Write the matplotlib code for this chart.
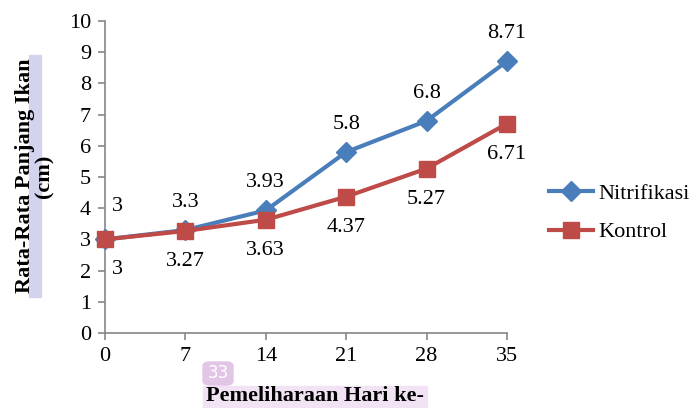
import matplotlib.pyplot as plt
from matplotlib.patches import Rectangle, FancyBboxPatch

hari = [0, 7, 14, 21, 28, 35]
nitrifikasi = [3, 3.3, 3.93, 5.8, 6.8, 8.71]
kontrol = [3, 3.27, 3.63, 4.37, 5.27, 6.71]
nitri_labels = ['3', '3.3', '3.93', '5.8', '6.8', '8.71']
kontrol_labels = ['3', '3.27', '3.63', '4.37', '5.27', '6.71']

plt.rcParams['font.family'] = ['Liberation Serif', 'DejaVu Serif']

fig = plt.figure(figsize=(6.9, 4.08), dpi=100)
ax = fig.add_axes([105 / 690, 75 / 408, 402 / 690, 312 / 408])

blue = '#4a7ebb'
red = '#be4b48'

ax.plot(hari, nitrifikasi, color=blue, lw=3, marker='D', ms=10,
        mec=blue, mfc=blue, label='Nitrifikasi', zorder=3)
ax.plot(hari, kontrol, color=red, lw=3, marker='s', ms=12,
        mec=red, mfc=red, label='Kontrol', zorder=4)

for i, (x, y) in enumerate(zip(hari, nitrifikasi)):
    dx = 9 if i == 0 else 0
    dy = 24 if i == 0 else 20
    ax.annotate(nitri_labels[i], (x, y), xytext=(dx, dy), textcoords='offset points',
                ha='center', va='center', fontsize=16)
for i, (x, y) in enumerate(zip(hari, kontrol)):
    dx = 9 if i == 0 else 0
    ax.annotate(kontrol_labels[i], (x, y), xytext=(dx, -22), textcoords='offset points',
                ha='center', va='center', fontsize=16)

ax.set_xlim(0, 35)
ax.set_ylim(0, 10)
ax.set_xticks(hari)
ax.set_yticks(range(11))
ax.tick_params(labelsize=16, color='#868686', length=5, width=1.2,
               direction='out', pad=5)
for s in ['top', 'right']:
    ax.spines[s].set_visible(False)
for s in ['left', 'bottom']:
    ax.spines[s].set_color('#868686')
    ax.spines[s].set_linewidth(1.2)
for line in ax.lines:
    line.set_clip_on(False)

# highlight behind the y label
fig.patches.append(Rectangle((29 / 690, 1 - 297 / 408), 12 / 690, 242 / 408,
                             transform=fig.transFigure, color='#d3d3ee', zorder=0))
fig.text(35 / 690, 1 - 176 / 408, 'Rata-Rata Panjang Ikan\n(cm)', rotation=90,
         ha='center', va='center', fontsize=16, fontweight='bold',
         linespacing=0.95, multialignment='center')

# highlight behind the x label
fig.patches.append(Rectangle((203 / 690, 0), 224 / 690, 22 / 408,
                             transform=fig.transFigure, color='#f1e3f3', zorder=0))
fig.text(315 / 690, 1 - 396 / 408, 'Pemeliharaan Hari ke-', ha='center', va='center',
         fontsize=16, fontweight='bold')

# page number badge
fig.patches.append(FancyBboxPatch((203 / 690, 1 - 385 / 408), 30 / 690, 23 / 408,
                                  boxstyle='round,pad=0,rounding_size=0.01',
                                  transform=fig.transFigure, color='#e2c6e6', zorder=0))
fig.text(218 / 690, 1 - 373.5 / 408, '33', ha='center', va='center',
         fontsize=12, color='white', family='DejaVu Sans')

fig.legend(loc='center left', bbox_to_anchor=(549 / 690, 1 - 213 / 408),
           frameon=False, fontsize=16, handlelength=2.0, handletextpad=0.2,
           labelspacing=0.8, borderaxespad=0, borderpad=0)

fig.savefig('out.png', dpi=100)
